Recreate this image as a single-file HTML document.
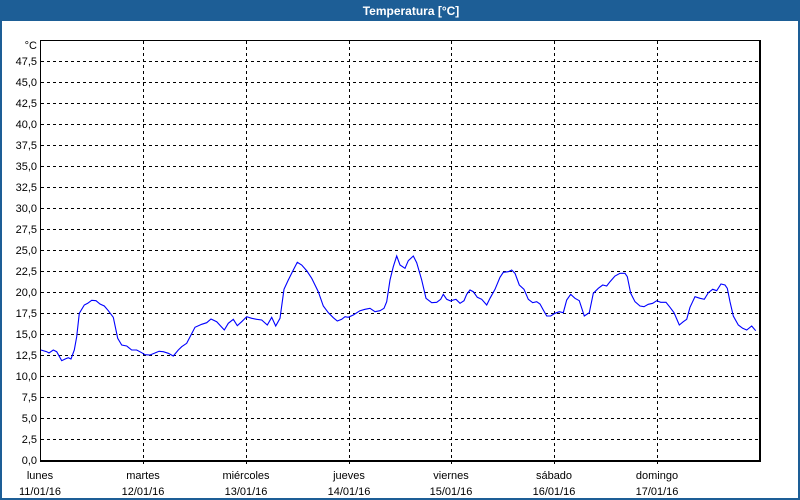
<!DOCTYPE html>
<html><head><meta charset="utf-8"><style>
html,body{margin:0;padding:0;background:#fff;}
svg{display:block;}
text{font-family:"Liberation Sans","DejaVu Sans",sans-serif;font-size:11px;fill:#000;}
</style></head><body>
<svg width="800" height="500" viewBox="0 0 800 500" xmlns="http://www.w3.org/2000/svg">
<rect x="0" y="0" width="800" height="500" fill="#fff"/>
<rect x="0" y="0" width="800" height="21" fill="#1d5e96"/>
<rect x="1" y="1" width="798" height="498" fill="none" stroke="#1d5e96" stroke-width="2"/>
<text x="411" y="15" text-anchor="middle" style="font-weight:bold;font-size:12px;fill:#fff">Temperatura [°C]</text>
<g stroke="#000" stroke-width="1" stroke-dasharray="3,3" fill="none">
<path d="M41 439.5H760M41 418.5H760M41 397.5H760M41 376.5H760M41 355.5H760M41 334.5H760M41 313.5H760M41 292.5H760M41 271.5H760M41 250.5H760M41 229.5H760M41 208.5H760M41 187.5H760M41 166.5H760M41 145.5H760M41 124.5H760M41 103.5H760M41 82.5H760M41 61.5H760"/>
<path d="M143.5 41V466M246.5 41V466M349.5 41V466M451.5 41V466M554.5 41V466M657.5 41V466"/>
</g>
<g fill="#000">
<rect x="40" y="40" width="721" height="1"/>
<rect x="40" y="40" width="1" height="422"/>
<rect x="759" y="40" width="2" height="422"/>
<rect x="40" y="460" width="721" height="2"/>
</g>
<g text-anchor="end">
<text x="37" y="49">°C</text>
<text x="37" y="65">47,5</text>
<text x="37" y="86">45,0</text>
<text x="37" y="107">42,5</text>
<text x="37" y="128">40,0</text>
<text x="37" y="149">37,5</text>
<text x="37" y="170">35,0</text>
<text x="37" y="191">32,5</text>
<text x="37" y="212">30,0</text>
<text x="37" y="233">27,5</text>
<text x="37" y="254">25,0</text>
<text x="37" y="275">22,5</text>
<text x="37" y="296">20,0</text>
<text x="37" y="317">17,5</text>
<text x="37" y="338">15,0</text>
<text x="37" y="359">12,5</text>
<text x="37" y="380">10,0</text>
<text x="37" y="401">7,5</text>
<text x="37" y="422">5,0</text>
<text x="37" y="443">2,5</text>
<text x="37" y="464">0,0</text>
</g>
<g text-anchor="middle">
<text x="40" y="479">lunes</text><text x="40" y="495">11/01/16</text>
<text x="143" y="479">martes</text><text x="143" y="495">12/01/16</text>
<text x="246" y="479">miércoles</text><text x="246" y="495">13/01/16</text>
<text x="349" y="479">jueves</text><text x="349" y="495">14/01/16</text>
<text x="451" y="479">viernes</text><text x="451" y="495">15/01/16</text>
<text x="554" y="479">sábado</text><text x="554" y="495">16/01/16</text>
<text x="657" y="479">domingo</text><text x="657" y="495">17/01/16</text>
</g>
<polyline fill="none" stroke="#0000ff" stroke-width="1.1" points="
41,350 46.7,351.7 49,353 53.3,350 56.7,351.7 61.7,360.7 65.7,358.7 68.3,357.7 71,359 74.3,350 76.7,336.7 79.3,313.3 84.3,305 87.7,303.3 91.7,300.3 96,300.7 100,304 104.3,306 108.3,310.7 113.3,317.3 117.7,338.3 121.7,345 126.7,346 131.7,350 136.7,350 141.7,352.7 145,354.7 150,355 154.3,353.3 159,351.3 163.3,351.7 168.3,353.3 173.3,356 178.3,350 181.7,346.7 186.7,343.3 191,335 195,327.3 201.7,324.3 206.7,322.7 211,319 216.7,321.7 224.3,330 228.3,323.3 233.3,319.3 237.3,325.7 241.7,321.7 246.7,316.7 251.7,318.3 256.7,319.3 261.7,320 267.3,325 271.7,317.3 275.7,326 280,318.3 284,289.3 288.3,280 293.3,270 297.3,262.3 301.7,265 306.7,270.7 311.7,278.3 318.3,291.7 323.3,306 328.3,312.7 333.3,317.7 337.3,321 341.7,319.3 345,316.7 348.3,317.3 353.3,315 360,310.7 365,309.3 370,308.3 375,311.7 380,310.7 384,308.3 386.7,301.7 390,280 393.3,266.7 396.7,256 400,265 405,268.3 408.3,260.7 413.3,256 416.7,262.7 421.7,280 426,298.3 431.7,302.7 436.7,302.3 440.7,299.3 443.3,294.3 446.7,299.3 450.7,301 453.3,300 456,299.3 460,303.3 464,300.7 466.7,294.3 470,290 473.3,291.7 477.3,297.3 481.7,299.3 486.7,305 490,298.3 495,289.3 500,277.3 503.3,272.3 508.3,271.7 511.7,270 515,273.3 519.3,285 524,289.3 528.3,299.3 532.7,302.7 536.7,301.7 540,304 543.3,310 546.7,316 550.7,316 555,313.3 559.3,311.7 563.3,312.7 566.7,300 570.7,294.3 575,298.3 579.3,300.7 584.3,316 589.3,312.7 593.3,293.3 598.3,288.3 602.7,285 606.7,286 610,281.7 615,276 620,273.3 625,273.3 627.3,276.7 630.7,293.3 635,301.7 640,306 644,306.7 648.3,304.3 652.7,303.3 656.7,300.7 660.7,302.3 666,302.3 670,307.3 674,312.7 679.3,325 683.3,321.7 686.7,319.3 690,307.3 695,296.7 700,298.3 704.3,299.3 708.3,292.7 712.7,289.3 716.7,290.7 721,284 725,285 727.3,288.3 730,301.7 733.3,316 738.3,325 742.7,328.3 746.7,330 751.7,326 755.7,330.7"/>
</svg>
</body></html>
